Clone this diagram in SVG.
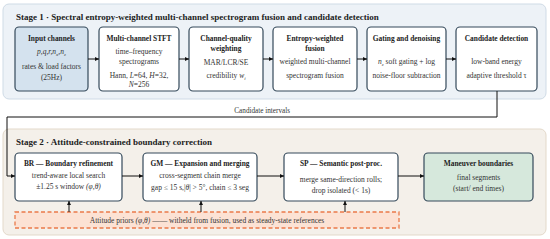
<svg xmlns="http://www.w3.org/2000/svg" width="550" height="239" viewBox="0 0 550 239">
<style>
text{font-family:"Liberation Serif","Times New Roman",serif;fill:#222;}
.title{font-size:9px;font-weight:bold;}
.nt{font-size:7.4px;font-weight:bold;text-anchor:middle;}
.nb{font-size:7.5px;text-anchor:middle;fill:#333;}
.lbl{font-size:7.2px;fill:#333;}
.node{fill:#ffffff;stroke:#34495a;stroke-width:1.2;}
.conn{fill:none;stroke:#111;stroke-width:1;}
.i{font-style:italic;}
.sub{font-size:5px;}
</style>
<defs>
<marker id="ah" viewBox="0 0 6 6" refX="6" refY="3" markerWidth="4" markerHeight="4" orient="auto">
<path d="M0,0 L6,3 L0,6 z" fill="#111"/>
</marker>
</defs>

<!-- Stage panels -->
<g id="stage1">
<rect x="3" y="4" width="543" height="95" rx="6" fill="#edf2f7" stroke="#cfdbe6" stroke-width="1"/>
<text class="title" x="16" y="20">Stage 1 · Spectral entropy-weighted multi-channel spectrogram fusion and candidate detection</text>
</g>
<g id="stage2">
<rect x="3" y="129" width="543" height="106" rx="6" fill="#f4f0ea" stroke="#e3d9ca" stroke-width="1"/>
<text class="title" x="16" y="145">Stage 2 · Attitude-constrained boundary correction</text>
</g>

<!-- Stage 1 nodes -->
<g id="input">
<rect x="15" y="27" width="73" height="64" rx="4" fill="#d4e2ee" stroke="#34495a" stroke-width="1.2"/>
<text class="nt" x="51.5" y="41">Input channels</text>
<text class="nb i" x="51.5" y="54">p,q,r,n<tspan class="sub" dy="1.5">x</tspan><tspan dy="-1.5">,n</tspan><tspan class="sub" dy="1.5">z</tspan></text>
<text class="nb" x="51.5" y="69">rates &amp; load factors</text>
<text class="nb" x="51.5" y="80">(25Hz)</text>
</g>
<g id="stft">
<rect class="node" x="99" y="27" width="80" height="64" rx="4"/>
<text class="nt" x="139" y="41">Multi-channel STFT</text>
<text class="nb" x="139" y="54">time–frequency</text>
<text class="nb" x="139" y="64">spectrograms</text>
<text class="nb" x="139" y="78">Hann, <tspan class="i">L</tspan>=64, <tspan class="i">H</tspan>=32,</text>
<text class="nb" x="139" y="87"><tspan class="i">N</tspan>=256</text>
</g>
<g id="quality">
<rect class="node" x="189" y="27" width="74" height="64" rx="4"/>
<text class="nt" x="226" y="41">Channel-quality</text>
<text class="nt" x="226" y="51">weighting</text>
<text class="nb" x="226" y="65">MAR/LCR/SE</text>
<text class="nb" x="226" y="78">credibility  <tspan class="i">w</tspan><tspan class="sub i" dy="1.5">i</tspan></text>
</g>
<g id="fusion">
<rect class="node" x="273" y="27" width="84" height="64" rx="4"/>
<text class="nt" x="315" y="41">Entropy-weighted</text>
<text class="nt" x="315" y="51">fusion</text>
<text class="nb" x="315" y="64">weighted multi-channel</text>
<text class="nb" x="315" y="78">spectrogram fusion</text>
</g>
<g id="gating">
<rect class="node" x="367" y="27" width="79" height="64" rx="4"/>
<text class="nt" x="406.5" y="41">Gating and denoising</text>
<text class="nb" x="406.5" y="64"><tspan class="i">n</tspan><tspan class="sub i" dy="1.5">z</tspan><tspan dy="-1.5"> soft gating + log</tspan></text>
<text class="nb" x="406.5" y="78">noise-floor subtraction</text>
</g>
<g id="candidate">
<rect class="node" x="456" y="27" width="81" height="64" rx="4"/>
<text class="nt" x="496.5" y="41">Candidate detection</text>
<text class="nb" x="496.5" y="64">low-band energy</text>
<text class="nb" x="496.5" y="78">adaptive threshold τ</text>
</g>

<!-- Stage 2 nodes -->
<g id="br">
<rect class="node" x="15" y="153" width="107" height="48" rx="4"/>
<text class="nt" x="68.5" y="166">BR — Boundary refinement</text>
<text class="nb" x="68.5" y="178">trend-aware local search</text>
<text class="nb" x="68.5" y="189">±1.25 s window <tspan class="i">(φ,θ)</tspan></text>
</g>
<g id="gm">
<rect class="node" x="143" y="153" width="114" height="48" rx="4"/>
<text class="nt" x="200" y="166">GM — Expansion and merging</text>
<text class="nb" x="200" y="178">cross-segment chain merge</text>
<text class="nb" x="200" y="190">gap ≤ 15 s,|<tspan class="i">θ</tspan>| &gt; 5°, chain ≤ 3 seg</text>
</g>
<g id="sp">
<rect class="node" x="284" y="153" width="114" height="48" rx="4"/>
<text class="nt" x="341" y="166">SP — Semantic post-proc.</text>
<text class="nb" x="341" y="182">merge same-direction rolls;</text>
<text class="nb" x="341" y="193">drop isolated (&lt; 1s)</text>
</g>
<g id="mb">
<rect x="424" y="153" width="109" height="48" rx="4" fill="#d6e8dc" stroke="#34495a" stroke-width="1.2"/>
<text class="nt" x="478.5" y="166">Maneuver boundaries</text>
<text class="nb" x="478.5" y="180">final segments</text>
<text class="nb" x="478.5" y="191">(start/ end times)</text>
</g>
<g id="priors">
<rect x="15" y="212" width="384" height="16" fill="#fce2d4" stroke="#ea7a4a" stroke-width="1.3" stroke-dasharray="4,2.5"/>
<text class="nb" x="207" y="223">Attitude priors <tspan class="i">(φ,θ)</tspan> —— witheld from fusion, used as steady-state references</text>
</g>

<!-- Connectors -->
<g id="connectors">
<line class="conn" x1="88" y1="59" x2="99" y2="59" marker-end="url(#ah)"/>
<line class="conn" x1="179" y1="59" x2="189" y2="59" marker-end="url(#ah)"/>
<line class="conn" x1="263" y1="59" x2="273" y2="59" marker-end="url(#ah)"/>
<line class="conn" x1="357" y1="59" x2="367" y2="59" marker-end="url(#ah)"/>
<line class="conn" x1="446" y1="59" x2="456" y2="59" marker-end="url(#ah)"/>
<path class="conn" d="M497,91 V117 H7 V176 H15" marker-end="url(#ah)"/>
<text class="lbl" x="290" y="113" text-anchor="end">Candidate intervals</text>
<line class="conn" x1="122" y1="176" x2="143" y2="176" marker-end="url(#ah)"/>
<line class="conn" x1="257" y1="176" x2="284" y2="176" marker-end="url(#ah)"/>
<line class="conn" x1="398" y1="176" x2="424" y2="176" marker-end="url(#ah)"/>
<line class="conn" x1="69" y1="212" x2="69" y2="201" marker-end="url(#ah)"/>
<line class="conn" x1="201" y1="212" x2="201" y2="201" marker-end="url(#ah)"/>
<line class="conn" x1="345" y1="212" x2="345" y2="201" marker-end="url(#ah)"/>
</g>
</svg>
